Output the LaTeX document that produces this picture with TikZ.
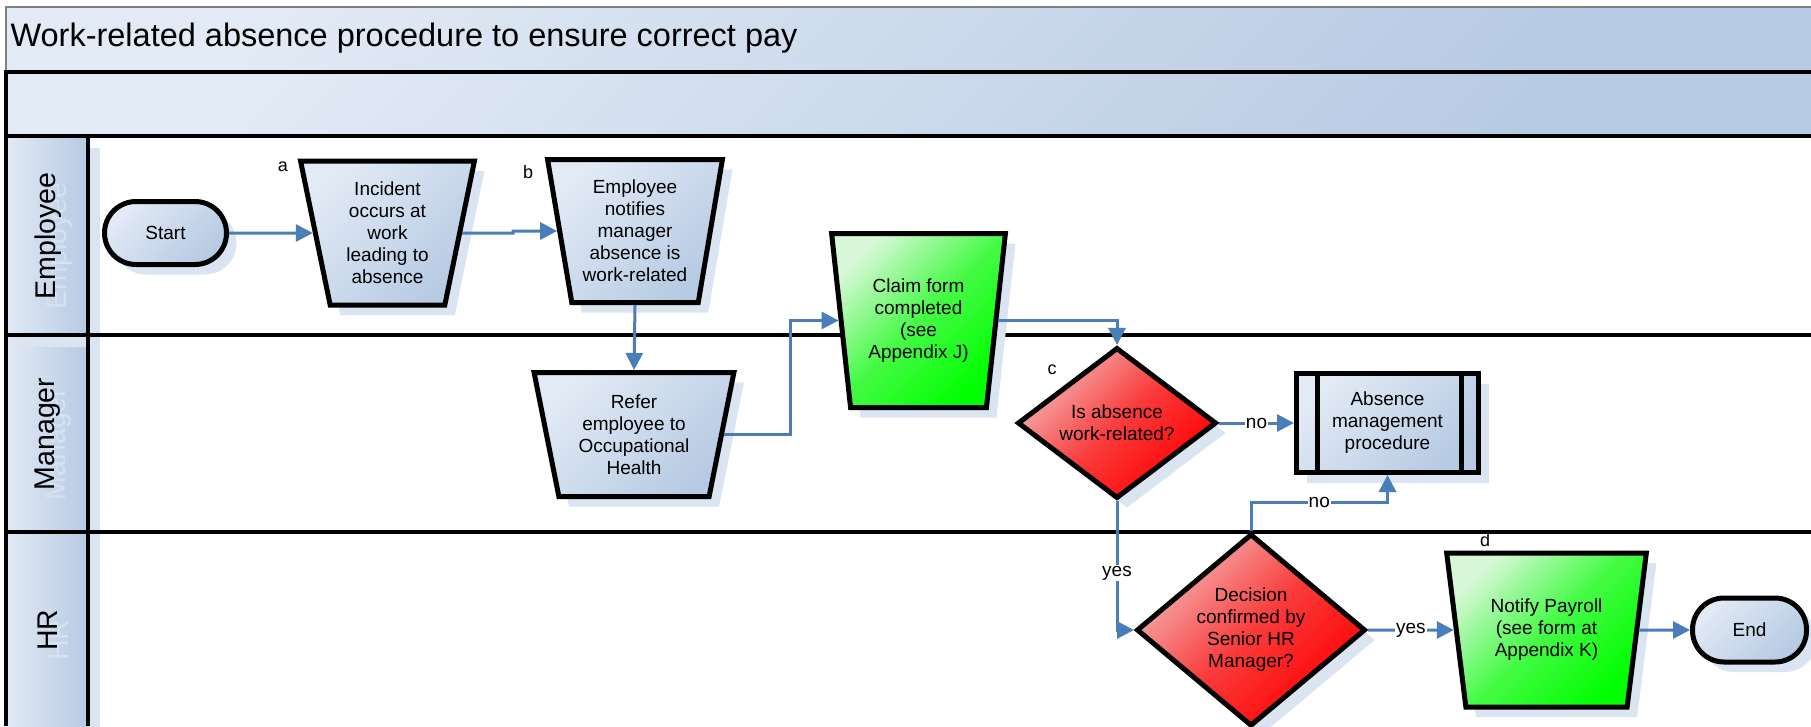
\documentclass[tikz,border=0pt]{standalone}
\usepackage{fontspec}
\setmainfont{Liberation Sans}
\usetikzlibrary{shapes.geometric,shapes.misc,arrows.meta,shadows}
\definecolor{bluelight}{RGB}{226,234,245}
\definecolor{bluedark}{RGB}{182,202,227}
\definecolor{shadowc}{RGB}{219,228,241}
\definecolor{ghostc}{RGB}{214,225,241}
\definecolor{conncol}{RGB}{74,126,187}
\definecolor{greenlight}{RGB}{215,247,215}
\definecolor{greenmid}{RGB}{70,250,70}
\definecolor{greendark}{RGB}{0,255,0}
\definecolor{redlight}{RGB}{243,178,178}
\definecolor{redmid}{RGB}{250,60,60}
\definecolor{reddark}{RGB}{255,0,0}
\tikzset{
  boxfont/.style={font=\fontsize{19}{22}\selectfont},
  blueshade/.style={top color=bluelight, bottom color=bluedark, shading angle=45},
  headshade/.style={left color=bluelight, right color=bluedark},
  greenshade/.style={top color=greenlight, bottom color=greendark, middle color=greenmid, shading angle=45},
  redshade/.style={top color=redlight, bottom color=reddark, middle color=redmid, shading angle=45},
  shadowed/.style={drop shadow={shadow xshift=10pt, shadow yshift=-10pt, fill=shadowc, opacity=1}},
  procbox/.style={trapezium, shape border rotate=180, trapezium stretches=true, draw=black, line width=5pt, inner sep=0pt, align=center, boxfont, shadowed},
  term/.style={rectangle, rounded corners=31.5pt, draw=black, line width=5pt, align=center, boxfont, shadowed, blueshade},
  decide/.style={diamond, draw=black, line width=5pt, inner sep=0pt, align=center, boxfont, shadowed, redshade},
  conn/.style={draw=conncol, line width=3pt, -{Triangle[length=17pt,width=17pt]}},
  lbl/.style={fill=white, inner sep=1pt, font=\fontsize{19}{20}\selectfont, text=black},
  tag/.style={font=\fontsize{18}{20}\selectfont},
  lanelabel/.style={rotate=90, font=\fontsize{28.5}{30}\selectfont},
  blackline/.style={line width=4pt, black}
}
\begin{document}
\begin{tikzpicture}[x=1pt,y=-1pt]
\useasboundingbox (0,0) rectangle (1811,726);
\clip (0,0) rectangle (1811,726);
\fill[white] (0,0) rectangle (1811,726);
% title and top bars
\path[blueshade] (6,7) rectangle (1811,72);
\path[blueshade] (6,72) rectangle (1811,136);
\draw[gray, line width=1.5pt] (6,72) -- (6,7) -- (1811,7);
\node[anchor=west, font=\fontsize{32.5}{36}\selectfont] (title) at (7,38) {Work-related absence procedure to ensure correct pay};
% lane headers with shadows
\fill[shadowc] (18,347) rectangle (100,544);
\fill[shadowc] (18,544) rectangle (100,740);
\path[headshade] (6,532) rectangle (88,726);
\path[headshade] (6,335) rectangle (88,532);
\fill[shadowc] (18,148) rectangle (100,347);
\path[headshade] (6,136) rectangle (88,335);
\node[lanelabel, text=ghostc] (empg) at (59,246) {Employee};
\node[lanelabel, text=ghostc] (mang) at (59,444) {Manager};
\node[lanelabel, text=ghostc] (hrg) at (59,640) {HR};
\node[lanelabel] (emp) at (48,236) {Employee};
\node[lanelabel] (man) at (48,434) {Manager};
\node[lanelabel] (hr) at (48,630) {HR};
% lane lines
\draw[blackline] (4,72) -- (1811,72);
\draw[blackline] (4,136) -- (1811,136);
\draw[blackline] (4,335) -- (1811,335);
\draw[blackline] (4,532) -- (1811,532);
\draw[blackline] (6,70) -- (6,726);
\draw[blackline] (88,136) -- (88,726);
% shapes
\node[tag] (lbx) at (458,266) {b};
\node[term, minimum width=122pt, minimum height=63pt] (start) at (165.5,233) {Start};
\node[procbox, blueshade, minimum width=174pt, minimum height=144pt, trapezium left angle=78.2, trapezium right angle=78.2] (a) at (387.5,233) {Incident\\occurs at\\work\\leading to\\absence};
\node[procbox, blueshade, minimum width=175pt, minimum height=143pt, trapezium left angle=78.9, trapezium right angle=78.9] (b) at (635,231) {Employee\\notifies\\manager\\absence is\\work-related};
\node[procbox, greenshade, minimum width=174pt, minimum height=174pt, trapezium left angle=80.5, trapezium right angle=80.5] (claim) at (918.5,320.5) {Claim form\\completed\\(see\\Appendix J)};
\node[procbox, blueshade, minimum width=200pt, minimum height=124pt, trapezium left angle=77.1, trapezium right angle=77.1] (refer) at (634,434.5) {Refer\\employee to\\Occupational\\Health};
\node[decide, minimum width=199pt, minimum height=149pt] (c) at (1117,423) {Is absence\\work-related?};
\node[rectangle, draw=black, line width=5pt, blueshade, shadowed, boxfont, align=center, minimum width=182pt, minimum height=99pt] (absence) at (1387.5,423) {Absence\\management\\procedure};
\draw[line width=5pt] ([xshift=23pt]absence.north west) -- ([xshift=23pt]absence.south west);
\draw[line width=5pt] ([xshift=-20pt]absence.north east) -- ([xshift=-20pt]absence.south east);
\node[decide, minimum width=229pt, minimum height=185pt] (decision) at (1251,630) {Decision\\confirmed by\\Senior HR\\Manager?};
\node[procbox, greenshade, minimum width=200pt, minimum height=154pt, trapezium left angle=77.8, trapezium right angle=77.8] (notify) at (1546.5,630) {Notify Payroll\\(see form at\\Appendix K)};
\node[term, minimum width=114pt, minimum height=64pt] (end) at (1749.5,630) {End};
% tags
\node[tag] (la) at (283,167) {a};
\node[tag] (lb) at (528,172) {b};
\node[tag] (lc) at (1052,370) {c};
\node[tag] (ld) at (1485,540) {d};
% connectors
\draw[conn] (start) -- (a);
\draw[conn] (a.east) -- (513,233) -- (513,231) -- (b);
\draw[conn] (b.south) -- (refer.north);
\draw[conn] (refer.east) -- ++(66,0) |- (claim.west);
\draw[conn] (claim.east) -| (c.north);
\draw[conn] (c.east) -- node[lbl] (no1) {no} (absence.west);
\draw[conn] (c.south) |- node[lbl, pos=0.28] (yes1) {yes} (decision.west);
\draw[conn] (decision.north) -- ++(0,-29) -| node[lbl, pos=0.25] (no2) {no} (absence.south);
\draw[conn] (decision.east) -- node[lbl] (yes2) {yes} (notify.west);
\draw[conn] (notify.east) -- (end.west);
\end{tikzpicture}
\end{document}
